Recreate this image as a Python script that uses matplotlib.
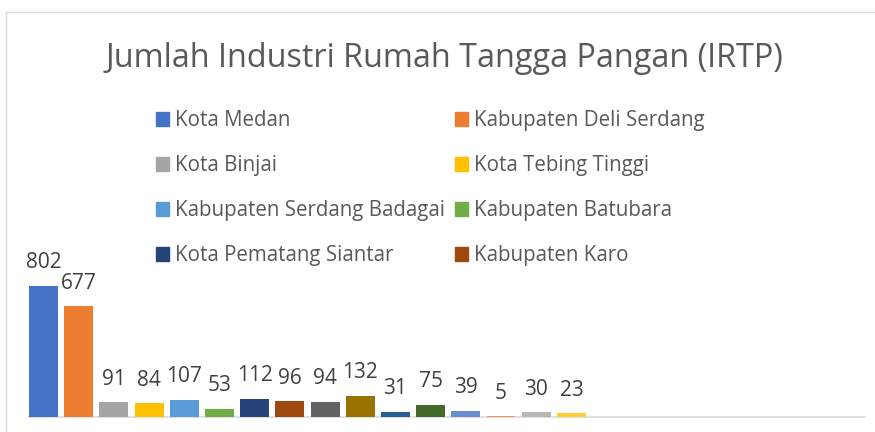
import matplotlib
matplotlib.use("Agg")
import matplotlib.pyplot as plt
from matplotlib.patches import Rectangle
from matplotlib.lines import Line2D

# IRTP counts per kabupaten/kota (legend only shows the first 8 series)
values = [802, 677, 91, 84, 107, 53, 112, 96, 94, 132, 31, 75, 39, 5, 30, 23]
legend_names = [
    "Kota Medan", "Kabupaten Deli Serdang",
    "Kota Binjai", "Kota Tebing Tinggi",
    "Kabupaten Serdang Badagai", "Kabupaten Batubara",
    "Kota Pematang Siantar", "Kabupaten Karo",
]
colors = [
    "#4472C4", "#ED7D31", "#A5A5A5", "#FFC000", "#5B9BD5", "#70AD47",
    "#264478", "#9E480E", "#636363", "#997300", "#255E91", "#43682B",
    "#698ED0", "#F1975A", "#B7B7B7", "#FFCD33",
]
title = "Jumlah Industri Rumah Tangga Pangan (IRTP)"

W, H = 875, 432
plt.rcParams["font.family"] = ["Open Sans", "DejaVu Sans"]

fig = plt.figure(figsize=(W / 100, H / 100), dpi=100)

def fx(px):
    return px / W

def fy(py):
    return 1 - py / H

# plot area (pixel-based placement)
left, right, bottom, top = 28.3, 865, 417.2, 253.6
ax = fig.add_axes([fx(left), fy(bottom), fx(right - left), (bottom - top) / H])

x = list(range(len(values)))
ax.bar(x, values, width=0.82, color=colors, zorder=3)
ax.set_xlim(-0.432, 23.34)
ax.set_ylim(0, 1000)

for xi, v in zip(x, values):
    ax.annotate(str(v), (xi, v), xytext=(0, 17.7 * 0.72), textcoords="offset points",
                ha="center", va="baseline", fontsize=15, color="#404040")

for s in ["top", "left", "right"]:
    ax.spines[s].set_visible(False)
ax.spines["bottom"].set_color("#D9D9D9")
ax.spines["bottom"].set_linewidth(1.1)
ax.set_xticks([])
ax.set_yticks([])
ax.patch.set_alpha(0)

# title
fig.text(fx(445), fy(66.7), title, ha="center", va="baseline",
         fontsize=23.3, color="#595959")

# legend, laid out row-wise like the original
col_x = [156, 455]
row_y = [119, 164, 209, 254]
sq = 13.3
for i, name in enumerate(legend_names):
    cx = col_x[i % 2]
    cy = row_y[i // 2]
    fig.patches.append(Rectangle((fx(cx), fy(cy + sq / 2)), fx(sq), sq / H,
                                 transform=fig.transFigure, color=colors[i]))
    fig.text(fx(cx + 19), fy(cy + 6.7), name, ha="left", va="baseline",
             fontsize=14.8, color="#595959")

# chart border (cropped: only top and left edges visible)
fig.lines.append(Line2D([fx(5.5), 1], [fy(11.7), fy(11.7)], transform=fig.transFigure,
                        color="#D9D9D9", linewidth=1))
fig.lines.append(Line2D([fx(5.5), fx(5.5)], [fy(11.7), 0], transform=fig.transFigure,
                        color="#D9D9D9", linewidth=1))

fig.savefig("out.png", dpi=100)
